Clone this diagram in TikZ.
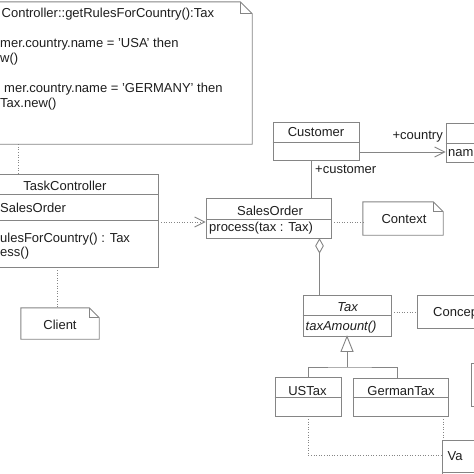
\documentclass[tikz,border=0pt]{standalone}
\usepackage{fontspec}
\setmainfont{Liberation Sans}
\usetikzlibrary{arrows.meta,shapes.geometric}
\definecolor{edge}{HTML}{858585}
\definecolor{ink}{HTML}{1E1E1E}
\begin{document}
\begin{tikzpicture}[x=1pt,y=-1pt,
  box/.style={draw=edge, line width=0.9pt, inner sep=0pt, fill=white},
  ghost/.style={inner sep=0pt},
  txt/.style={inner sep=0pt, text=ink, font=\fontsize{13}{15}\selectfont},
  lbl/.style={txt, anchor=base west},
  ctr/.style={txt, anchor=base},
  rlbl/.style={txt, anchor=base east},
  divider/.style={draw=edge, line width=0.9pt},
  outline/.style={draw=edge, line width=0.9pt, fill=white},
  dep/.style={draw=edge, line width=0.9pt, dash pattern=on 1pt off 1.6pt},
  assoc/.style={draw=edge, line width=0.9pt},
  openhead/.style={-{Straight Barb[length=10pt,width=10pt,line width=0.9pt]}},
  aggr/.style={draw=edge, fill=white, line width=0.9pt, shape=diamond, inner sep=0pt, minimum width=8pt, minimum height=14pt, anchor=north}
]
\useasboundingbox (0,0) rectangle (474,474);
\clip (0,0) rectangle (474,474);
\fill[white] (0,0) rectangle (474,474);

% guide coordinates
\coordinate (xnote) at (18,0);
\coordinate (xclient) at (57,0);
\coordinate (xcust) at (311,0);
\coordinate (xagg) at (319.5,0);
\coordinate (xgen) at (347,0);
\coordinate (xus) at (308,0);
\coordinate (xde) at (397,0);
\coordinate (xva) at (443,0);
\coordinate (ydep) at (0,222);
\coordinate (ycty) at (0,152);
\coordinate (ycon) at (0,312);
\coordinate (yva) at (0,455);
\coordinate (jn) at (347,367);

% notes (outline frames as ghost nodes)
\node[ghost, minimum width=272pt, minimum height=142pt] (note) at (116,73) {};
\draw[outline] (note.north west) -- ([xshift=-12pt]note.north east) -- ([yshift=-12pt]note.north east) -- (note.south east) -- (note.south west) -- cycle;
\draw[divider] ([xshift=-12pt]note.north east) -- ([xshift=-12pt,yshift=-12pt]note.north east) -- ([yshift=-12pt]note.north east);

\node[ghost, minimum width=80pt, minimum height=33pt] (context) at (403,218.5) {};
\draw[outline] (context.north west) -- ([xshift=-10pt]context.north east) -- ([yshift=-10pt]context.north east) -- (context.south east) -- (context.south west) -- cycle;
\draw[divider] ([xshift=-10pt]context.north east) -- ([xshift=-10pt,yshift=-10pt]context.north east) -- ([yshift=-10pt]context.north east);

\node[ghost, minimum width=78pt, minimum height=31pt] (client) at (60,323.5) {};
\draw[outline] (client.north west) -- ([xshift=-10pt]client.north east) -- ([yshift=-10pt]client.north east) -- (client.south east) -- (client.south west) -- cycle;
\draw[divider] ([xshift=-10pt]client.north east) -- ([xshift=-10pt,yshift=-10pt]client.north east) -- ([yshift=-10pt]client.north east);

\node[box, minimum width=83pt, minimum height=33pt] (concept) at (458.5,311.5) {};

% classes
\node[box, minimum width=178pt, minimum height=93pt] (tc) at (69,220.5) {};
\draw[divider] (tc.west |- 0,194) -- (tc.east |- 0,194);
\draw[divider] (tc.west |- 0,220) -- (tc.east |- 0,220);

\node[box, minimum width=86pt, minimum height=38pt] (cust) at (316,141) {};
\draw[divider] (cust.west |- 0,142) -- (cust.east |- 0,142);

\node[box, minimum width=54pt, minimum height=39pt] (country) at (473,142.5) {};
\draw[divider] (country.west |- 0,143) -- (country.east |- 0,143);

\node[box, minimum width=125pt, minimum height=40pt] (so) at (268.5,218) {};
\draw[divider] (so.west |- 0,219) -- (so.east |- 0,219);

\node[box, minimum width=88pt, minimum height=41pt] (tax) at (347,315.5) {};
\draw[divider] (tax.west |- 0,315) -- (tax.east |- 0,315);

\node[box, minimum width=66pt, minimum height=39pt] (ust) at (308,396.5) {};
\draw[divider] (ust.west |- 0,397) -- (ust.east |- 0,397);

\node[box, minimum width=95pt, minimum height=38pt] (gt) at (400.5,397) {};
\draw[divider] (gt.west |- 0,397) -- (gt.east |- 0,397);

\node[box, minimum width=49pt, minimum height=43pt] (rmid) at (495.5,384.5) {};

\node[box, minimum width=58pt, minimum height=60pt] (va) at (471,470) {};
\draw[divider] (va.west |- 0,472) -- (va.east |- 0,472);

% connectors
\draw[dep] (note.south -| xnote) -- (tc.north -| xnote);
\draw[dep] (tc.south -| xclient) -- (client.north -| xclient);
\draw[dep, openhead] (tc.east |- ydep) -- (so.west |- ydep);
\draw[dep] (so.east |- ydep) -- (context.west |- ydep);
\draw[assoc] (cust.south -| xcust) -- (so.north -| xcust);
\draw[assoc, openhead] (cust.east |- ycty) -- (country.west |- ycty);
\node[aggr] (dia) at (so.south -| xagg) {};
\draw[assoc] (dia.south) -- (tax.north -| dia.south);
\draw[dep] (tax.east |- ycon) -- (concept.west |- ycon);
\coordinate (tip) at (tax.south -| xgen);
\draw[outline] (tip) -- ([xshift=6pt,yshift=-15pt]tip) -- ([xshift=-6pt,yshift=-15pt]tip) -- cycle;
\draw[assoc] ([yshift=-15pt]tip) -- (jn);
\draw[assoc] (ust.north -| xus) |- (jn) -| (gt.north -| xde);
\draw[dep] (ust.south -| xus) |- (va.west |- yva);
\draw[dep] (gt.south -| xva) -- (va.north -| xva);

% texts
\node[lbl] (n1) at (1.5,17) {Controller::getRulesForCountry():Tax};
\node[lbl] (n2) at (0,47) {mer.country.name = 'USA' then};
\node[lbl] (n3) at (0,62) {w()};
\node[lbl] (n4) at (4,92) {mer.country.name = 'GERMANY' then};
\node[lbl] (n5) at (0,107) {Tax.new()};

\node[ctr] (tcname) at (65,190.5) {TaskController};
\node[lbl] (tcattr) at (0,212.5) {SalesOrder};
\node[lbl] (tcop1) at (0,242.5) {ulesForCountry() : Tax};
\node[lbl] (tcop2) at (0,256.5) {ess()};

\node[ctr] (custname) at (316,136.5) {Customer};
\node[lbl] (custrole) at (315,173) {+customer};
\node[rlbl] (ctyrole) at (443,139) {+country};
\node[lbl] (ctyattr) at (448,156) {nam};

\node[ctr] (soname) at (270,215) {SalesOrder};
\node[lbl] (soop) at (209,231) {process(tax : Tax)};
\node[ctr] (contexttext) at (404,223) {Context};

\node[ctr, font=\fontsize{13}{15}\selectfont\itshape] (taxname) at (347.5,311.5) {Tax};
\node[lbl, font=\fontsize{13}{15}\selectfont\itshape] (taxop) at (305.5,330) {taxAmount()};
\node[lbl] (concepttext) at (433,316.7) {Concep};

\node[ctr] (ustname) at (307.5,395) {USTax};
\node[ctr] (gtname) at (401,395) {GermanTax};
\node[ctr] (clienttext) at (60,329) {Client};
\node[lbl] (vatext) at (447.5,460) {Va};
\end{tikzpicture}
\end{document}
